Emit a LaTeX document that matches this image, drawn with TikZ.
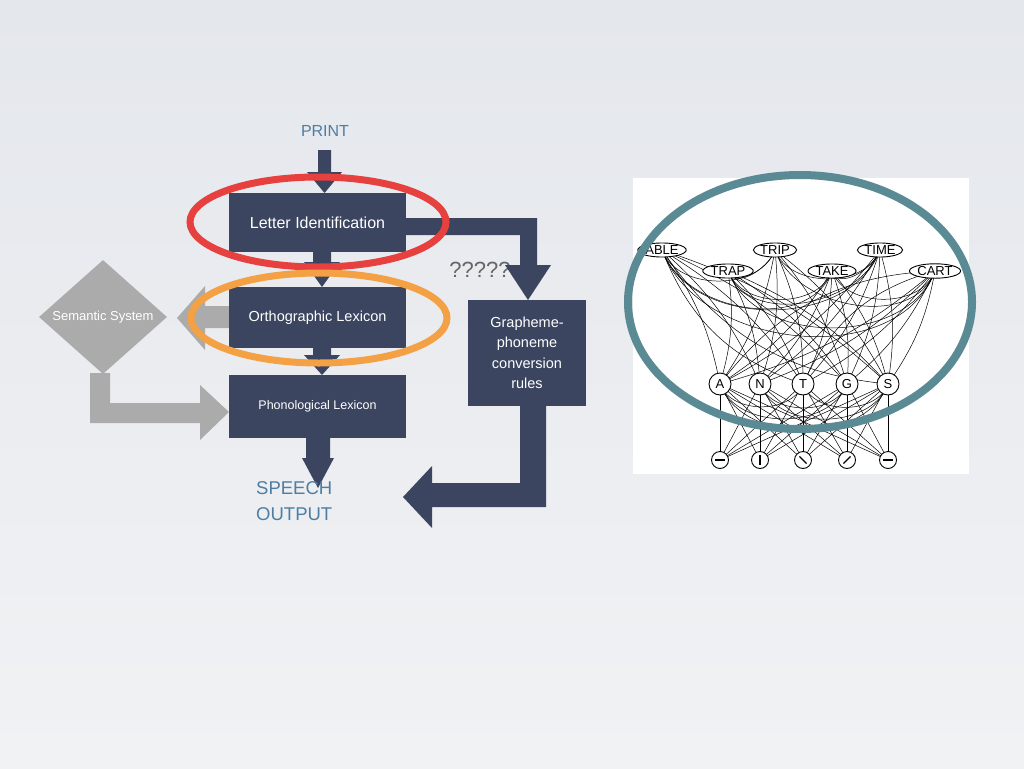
\documentclass[tikz,border=0pt]{standalone}
\usepackage{fontspec}
\setmainfont{Liberation Sans}
\usetikzlibrary{calc,shapes.geometric}
\definecolor{navy}{HTML}{3B4560}
\definecolor{steel}{HTML}{4F7DA3}
\definecolor{gr}{HTML}{ABABAB}
\definecolor{redc}{HTML}{E6403F}
\definecolor{orc}{HTML}{F4A044}
\definecolor{teal}{HTML}{5A8A94}
\definecolor{bgtop}{HTML}{E4E7EC}
\definecolor{bgbot}{HTML}{F1F2F4}
\begin{document}
\begin{tikzpicture}[x=1pt,y=-1pt,
  box/.style={fill=navy,text=white,inner sep=0},
  word/.style={draw,ellipse,inner sep=0.5pt,fill=white,font=\fontsize{13}{13}\selectfont,line width=0.9pt},
  let/.style={draw,circle,inner sep=0pt,minimum size=22pt,fill=white,font=\fontsize{13}{13}\selectfont,line width=0.9pt},
  net/.style={line width=0.5pt,black}]
\shade[top color=bgtop, bottom color=bgbot] (0,0) rectangle (1024,768);
\useasboundingbox (0,0) rectangle (1024,768);
\node[text=gray!80!black,font=\fontsize{22}{22}\selectfont] (q) at (480,270) {?????};
% gray arrows
\fill[gr] (229,306) -- (205,306) -- (205,286) -- (177,318) -- (205,350) -- (205,328) -- (229,328) -- cycle;
\fill[gr] (90,373) -- (110,373) -- (110,403) -- (200,403) -- (200,385) -- (229,412) -- (200,440) -- (200,423) -- (90,423) -- cycle;
\node[diamond,fill=gr,minimum width=128pt,minimum height=114pt,inner sep=0,text=white,font=\fontsize{13}{14}\selectfont] (sem) at (103,317) {Semantic System};
% navy arrows
\fill[navy] (318,150) -- (331,150) -- (331,172) -- (342,172) -- (324.5,193) -- (307,172) -- (318,172) -- cycle;
\fill[navy] (313,250) -- (331,250) -- (331,262) -- (340,262) -- (322,287) -- (304,262) -- (313,262) -- cycle;
\fill[navy] (313,346) -- (331,346) -- (331,355) -- (340,355) -- (322,375) -- (304,355) -- (313,355) -- cycle;
\fill[navy] (306,436) -- (330,436) -- (330,458) -- (334,458) -- (318,488) -- (302,458) -- (306,458) -- cycle;
\fill[navy] (400,218) -- (537,218) -- (537,265) -- (551,265) -- (528,300) -- (505,265) -- (520,265) -- (520,235) -- (400,235) -- cycle;
\fill[navy] (520,400) -- (546,400) -- (546,507) -- (432,507) -- (432,528) -- (403,497) -- (432,466) -- (432,483) -- (520,483) -- cycle;
% boxes
\node[box,minimum width=177pt,minimum height=59pt,font=\fontsize{16}{18}\selectfont] (let) at (317.5,222.5) {Letter Identification};
\node[box,minimum width=177pt,minimum height=61pt,font=\fontsize{14.5}{16}\selectfont] (orth) at (317.5,317.5) {Orthographic Lexicon};
\node[box,minimum width=177pt,minimum height=63pt,font=\fontsize{12.5}{14}\selectfont] (phon) at (317.5,406.5) {Phonological Lexicon};
\node[box,minimum width=118pt,minimum height=106pt,align=center,font=\fontsize{14.5}{20.5}\selectfont] (gpc) at (527,353) {Grapheme-\\phoneme\\conversion\\rules};
\node[text=steel,font=\fontsize{16}{18}\selectfont] (print) at (325,131) {PRINT};
\node[text=steel,align=left,font=\fontsize{18.5}{26}\selectfont,anchor=north west,inner sep=0] (out) at (256,481) {SPEECH\\OUTPUT};
% ellipses
\draw[redc,line width=7pt] (318,222) ellipse (128 and 45);
\draw[orc,line width=7pt] (319,318) ellipse (128 and 45);
% network
\fill[white] (633,178) rectangle (969,474);
\foreach \n/\x/\y/\t in {w1/662/250/ABLE,w2/728/271/TRAP,w3/775/250/TRIP,w4/832/271/TAKE,w5/880/250/TIME,w6/935/271/CART}
  \coordinate (\n) at (\x,\y);
\foreach \n/\x in {l1/720,l2/760,l3/803,l4/847,l5/888} {\coordinate (\n) at (\x,384); \coordinate (f\n) at (\x,460);}
\foreach \a in {w1,w2,w3,w4,w5,w6} \foreach \b in {l1,l2,l3,l4,l5} \draw[net] (\a) to[bend left=12] (\b);
\foreach \a/\b in {w1/w3,w1/w5,w1/w6,w2/w4,w2/w6,w3/w5,w3/w6,w1/w4,w2/w5,w4/w6,w2/w3,w4/w5}
  \draw[net] (\a) to[out=-70,in=-110] (\b);
\foreach \a/\b in {w1/l5,w6/l1,w1/l3,w6/l3}
  \draw[net] (\a) to[bend right=25] (\b);
\foreach \a/\b in {l1/l3,l1/l5,l2/l4,l1/l4,l2/l5,l3/l5}
  \draw[net] (\a) to[out=-70,in=-110] (\b);
\foreach \a in {l1,l2,l3,l4,l5} \foreach \b in {l1,l2,l3,l4,l5} \draw[net] (f\a) -- (\b);
\foreach \n/\x/\y/\t in {w1/662/250/ABLE,w2/728/271/TRAP,w3/775/250/TRIP,w4/832/271/TAKE,w5/880/250/TIME,w6/935/271/CART}
  \node[word] (n\n) at (\x,\y) {\t};
\foreach \n/\t in {l1/A,l2/N,l3/T,l4/G,l5/S} \node[let] (n\n) at (\n) {\t};
\foreach \n/\a in {l1/0,l2/90,l3/45,l4/135,l5/0} {\node[let,minimum size=17pt] (nf\n) at (f\n) {}; \draw[line width=1.2pt] ($(f\n)+(\a:-5)$) -- ($(f\n)+(\a:5)$);}
\draw[teal,line width=8pt] (800,302) ellipse (172 and 127);
\end{tikzpicture}
\end{document}
